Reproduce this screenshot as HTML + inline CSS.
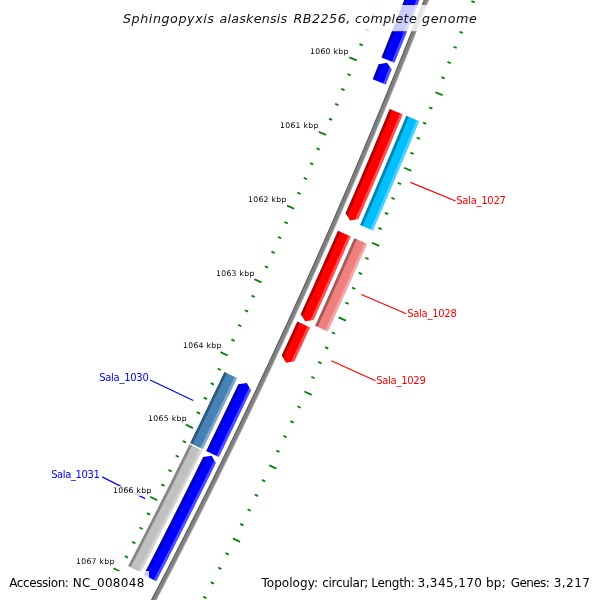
<!DOCTYPE html>
<html><head><meta charset="utf-8"><title>Sphingopyxis alaskensis RB2256, complete genome</title>
<style>html,body{margin:0;padding:0;background:#fff}svg{display:block}text{font-family:"DejaVu Sans","Liberation Sans",sans-serif}</style></head>
<body><svg width="600" height="600" viewBox="0 0 600 600">
<rect width="600" height="600" fill="#fff"/>
<polygon points="449.92,-68.68 447.80,-63.04 445.67,-57.40 443.54,-51.76 441.40,-46.13 439.26,-40.50 437.11,-34.87 434.95,-29.24 432.79,-23.62 430.63,-17.99 428.45,-12.37 426.28,-6.75 424.09,-1.14 421.90,4.48 419.71,10.09 417.51,15.70 415.30,21.31 413.09,26.91 410.87,32.51 408.65,38.12 406.42,43.71 404.19,49.31 401.95,54.90 399.70,60.50 397.45,66.09 395.19,71.67 392.93,77.26 390.66,82.84 388.39,88.42 386.11,94.00 383.82,99.57 381.53,105.15 379.24,110.72 376.93,116.29 374.63,121.85 372.31,127.42 369.99,132.98 367.67,138.54 365.34,144.10 363.00,149.65 360.66,155.20 358.32,160.76 355.96,166.30 353.61,171.85 351.24,177.39 348.87,182.93 346.50,188.47 344.12,194.01 341.73,199.54 339.34,205.07 336.95,210.60 334.54,216.13 332.14,221.65 329.72,227.17 327.30,232.69 324.88,238.21 322.45,243.72 320.01,249.23 317.57,254.74 315.12,260.25 312.67,265.75 310.21,271.25 307.75,276.75 305.28,282.25 302.81,287.74 300.33,293.24 297.84,298.72 295.35,304.21 292.85,309.70 290.35,315.18 287.84,320.66 285.33,326.13 282.81,331.61 280.29,337.08 277.76,342.55 275.22,348.02 272.68,353.48 270.13,358.94 267.58,364.40 265.02,369.86 262.46,375.31 259.89,380.76 257.32,386.21 254.74,391.65 252.16,397.10 249.57,402.54 246.97,407.98 244.37,413.41 241.76,418.85 239.15,424.28 236.53,429.70 233.91,435.13 231.28,440.55 228.65,445.97 226.01,451.39 223.36,456.80 220.71,462.21 218.06,467.62 215.39,473.03 212.73,478.43 210.06,483.83 207.38,489.23 204.69,494.63 202.01,500.02 199.31,505.41 196.61,510.80 193.91,516.18 191.20,521.56 188.48,526.94 185.76,532.32 183.04,537.69 180.30,543.06 177.57,548.43 174.82,553.80 172.08,559.16 169.32,564.52 166.56,569.88 163.80,575.23 161.03,580.58 158.25,585.93 155.47,591.28 152.69,596.62 149.90,601.96 147.10,607.30 144.30,612.64 141.49,617.97 138.68,623.30 135.86,628.62 133.04,633.95 130.21,639.27 127.37,644.59 124.53,649.90 121.69,655.21 118.84,660.52 115.98,665.83 113.12,671.13 110.26,676.43 107.39,681.73 104.51,687.02 101.63,692.32 98.74,697.60 95.85,702.89 100.23,705.29 103.13,700.00 106.02,694.71 108.90,689.41 111.78,684.11 114.65,678.81 117.52,673.51 120.39,668.20 123.24,662.89 126.10,657.57 128.94,652.26 131.79,646.94 134.62,641.62 137.45,636.29 140.28,630.96 143.10,625.63 145.91,620.30 148.72,614.96 151.53,609.62 154.33,604.28 157.12,598.94 159.91,593.59 162.69,588.24 165.47,582.89 168.24,577.53 171.01,572.17 173.77,566.81 176.52,561.44 179.27,556.08 182.02,550.71 184.76,545.33 187.49,539.96 190.22,534.58 192.95,529.20 195.66,523.82 198.38,518.43 201.08,513.04 203.78,507.65 206.48,502.25 209.17,496.86 211.86,491.46 214.54,486.05 217.21,480.65 219.88,475.24 222.54,469.83 225.20,464.41 227.85,459.00 230.50,453.58 233.14,448.16 235.78,442.73 238.41,437.31 241.03,431.88 243.65,426.45 246.27,421.01 248.88,415.57 251.48,410.13 254.08,404.69 256.67,399.25 259.26,393.80 261.84,388.35 264.42,382.89 266.99,377.44 269.55,371.98 272.11,366.52 274.66,361.06 277.21,355.59 279.76,350.12 282.29,344.65 284.82,339.18 287.35,333.70 289.87,328.22 292.39,322.74 294.90,317.26 297.40,311.77 299.90,306.28 302.39,300.79 304.88,295.30 307.36,289.80 309.84,284.30 312.31,278.80 314.78,273.30 317.24,267.79 319.69,262.28 322.14,256.77 324.58,251.26 327.02,245.74 329.45,240.22 331.88,234.70 334.30,229.18 336.72,223.65 339.13,218.12 341.53,212.59 343.93,207.06 346.32,201.52 348.71,195.98 351.09,190.44 353.47,184.90 355.84,179.35 358.21,173.81 360.57,168.26 362.92,162.70 365.27,157.15 367.61,151.59 369.95,146.03 372.28,140.47 374.61,134.91 376.93,129.34 379.24,123.77 381.55,118.20 383.86,112.63 386.16,107.05 388.45,101.47 390.73,95.89 393.02,90.31 395.29,84.72 397.56,79.14 399.83,73.55 402.09,67.96 404.34,62.36 406.59,56.77 408.83,51.17 411.06,45.57 413.29,39.96 415.52,34.36 417.74,28.75 419.95,23.14 422.16,17.53 424.36,11.91 426.56,6.30 428.75,0.68 430.94,-4.94 433.12,-10.57 435.29,-16.19 437.46,-21.82 439.62,-27.45 441.78,-33.08 443.93,-38.72 446.08,-44.35 448.22,-49.99 450.35,-55.63 452.48,-61.27 454.60,-66.92" fill="#808080"/>
<polygon points="449.92,-68.68 447.80,-63.04 445.67,-57.40 443.54,-51.76 441.40,-46.13 439.26,-40.50 437.11,-34.87 434.95,-29.24 432.79,-23.62 430.63,-17.99 428.45,-12.37 426.28,-6.75 424.09,-1.14 421.90,4.48 419.71,10.09 417.51,15.70 415.30,21.31 413.09,26.91 410.87,32.51 408.65,38.12 406.42,43.71 404.19,49.31 401.95,54.90 399.70,60.50 397.45,66.09 395.19,71.67 392.93,77.26 390.66,82.84 388.39,88.42 386.11,94.00 383.82,99.57 381.53,105.15 379.24,110.72 376.93,116.29 374.63,121.85 372.31,127.42 369.99,132.98 367.67,138.54 365.34,144.10 363.00,149.65 360.66,155.20 358.32,160.76 355.96,166.30 353.61,171.85 351.24,177.39 348.87,182.93 346.50,188.47 344.12,194.01 341.73,199.54 339.34,205.07 336.95,210.60 334.54,216.13 332.14,221.65 329.72,227.17 327.30,232.69 324.88,238.21 322.45,243.72 320.01,249.23 317.57,254.74 315.12,260.25 312.67,265.75 310.21,271.25 307.75,276.75 305.28,282.25 302.81,287.74 300.33,293.24 297.84,298.72 295.35,304.21 292.85,309.70 290.35,315.18 287.84,320.66 285.33,326.13 282.81,331.61 280.29,337.08 277.76,342.55 275.22,348.02 272.68,353.48 270.13,358.94 267.58,364.40 265.02,369.86 262.46,375.31 259.89,380.76 257.32,386.21 254.74,391.65 252.16,397.10 249.57,402.54 246.97,407.98 244.37,413.41 241.76,418.85 239.15,424.28 236.53,429.70 233.91,435.13 231.28,440.55 228.65,445.97 226.01,451.39 223.36,456.80 220.71,462.21 218.06,467.62 215.39,473.03 212.73,478.43 210.06,483.83 207.38,489.23 204.69,494.63 202.01,500.02 199.31,505.41 196.61,510.80 193.91,516.18 191.20,521.56 188.48,526.94 185.76,532.32 183.04,537.69 180.30,543.06 177.57,548.43 174.82,553.80 172.08,559.16 169.32,564.52 166.56,569.88 163.80,575.23 161.03,580.58 158.25,585.93 155.47,591.28 152.69,596.62 149.90,601.96 147.10,607.30 144.30,612.64 141.49,617.97 138.68,623.30 135.86,628.62 133.04,633.95 130.21,639.27 127.37,644.59 124.53,649.90 121.69,655.21 118.84,660.52 115.98,665.83 113.12,671.13 110.26,676.43 107.39,681.73 104.51,687.02 101.63,692.32 98.74,697.60 95.85,702.89 96.72,703.37 99.62,698.08 102.50,692.79 105.39,687.50 108.26,682.21 111.14,676.91 114.00,671.61 116.86,666.30 119.72,660.99 122.57,655.68 125.42,650.37 128.26,645.06 131.09,639.74 133.92,634.42 136.74,629.09 139.56,623.76 142.38,618.43 145.18,613.10 147.99,607.77 150.78,602.43 153.57,597.09 156.36,591.74 159.14,586.39 161.92,581.04 164.69,575.69 167.45,570.34 170.21,564.98 172.97,559.62 175.71,554.25 178.46,548.89 181.19,543.52 183.93,538.15 186.65,532.77 189.38,527.39 192.09,522.01 194.80,516.63 197.51,511.25 200.21,505.86 202.90,500.47 205.59,495.07 208.27,489.68 210.95,484.28 213.62,478.88 216.29,473.47 218.95,468.06 221.61,462.65 224.26,457.24 226.91,451.83 229.55,446.41 232.18,440.99 234.81,435.56 237.43,430.14 240.05,424.71 242.66,419.28 245.27,413.84 247.87,408.41 250.47,402.97 253.06,397.53 255.64,392.08 258.22,386.64 260.80,381.19 263.37,375.74 265.93,370.28 268.49,364.82 271.04,359.36 273.59,353.90 276.13,348.44 278.66,342.97 281.19,337.50 283.72,332.03 286.24,326.55 288.75,321.07 291.26,315.59 293.76,310.11 296.26,304.63 298.75,299.14 301.24,293.65 303.72,288.15 306.19,282.66 308.66,277.16 311.13,271.66 313.58,266.16 316.04,260.65 318.48,255.15 320.93,249.64 323.36,244.12 325.79,238.61 328.22,233.09 330.64,227.57 333.05,222.05 335.46,216.52 337.86,211.00 340.26,205.47 342.65,199.94 345.04,194.40 347.42,188.86 349.79,183.33 352.16,177.78 354.53,172.24 356.89,166.69 359.24,161.14 361.58,155.59 363.93,150.04 366.26,144.48 368.59,138.93 370.92,133.37 373.24,127.80 375.55,122.24 377.86,116.67 380.16,111.10 382.46,105.53 384.75,99.95 387.03,94.38 389.31,88.80 391.59,83.22 393.86,77.63 396.12,72.05 398.38,66.46 400.63,60.87 402.87,55.28 405.11,49.68 407.35,44.08 409.58,38.48 411.80,32.88 414.02,27.28 416.23,21.67 418.44,16.06 420.64,10.45 422.83,4.84 425.02,-0.77 427.21,-6.39 429.39,-12.01 431.56,-17.63 433.73,-23.26 435.89,-28.88 438.04,-34.51 440.19,-40.14 442.34,-45.77 444.47,-51.41 446.61,-57.04 448.74,-62.68 450.86,-68.32" fill="#000" fill-opacity="0.3"/>
<polygon points="453.67,-67.27 451.54,-61.63 449.41,-55.98 447.28,-50.34 445.14,-44.71 443.00,-39.07 440.84,-33.44 438.69,-27.81 436.53,-22.18 434.36,-16.55 432.18,-10.93 430.00,-5.31 427.82,0.31 425.63,5.93 423.43,11.55 421.23,17.16 419.02,22.77 416.81,28.38 414.59,33.99 412.37,39.59 410.14,45.20 407.90,50.80 405.66,56.39 403.41,61.99 401.16,67.58 398.90,73.17 396.64,78.76 394.37,84.35 392.09,89.93 389.81,95.51 387.52,101.09 385.23,106.67 382.93,112.25 380.63,117.82 378.32,123.39 376.01,128.96 373.69,134.52 371.36,140.09 369.03,145.65 366.69,151.20 364.35,156.76 362.00,162.31 359.65,167.87 357.29,173.42 354.92,178.96 352.55,184.51 350.18,190.05 347.79,195.59 345.41,201.12 343.01,206.66 340.61,212.19 338.21,217.72 335.80,223.25 333.39,228.77 330.97,234.30 328.54,239.82 326.11,245.34 323.67,250.85 321.23,256.36 318.78,261.87 316.32,267.38 313.86,272.89 311.40,278.39 308.93,283.89 306.45,289.39 303.97,294.88 301.48,300.38 298.99,305.87 296.49,311.36 293.99,316.84 291.48,322.32 288.96,327.80 286.44,333.28 283.92,338.76 281.39,344.23 278.85,349.70 276.31,355.17 273.76,360.63 271.20,366.10 268.65,371.55 266.08,377.01 263.51,382.47 260.94,387.92 258.35,393.37 255.77,398.82 253.18,404.26 250.58,409.70 247.98,415.14 245.37,420.58 242.75,426.01 240.13,431.44 237.51,436.87 234.88,442.30 232.24,447.72 229.60,453.14 226.96,458.56 224.30,463.97 221.65,469.39 218.98,474.80 216.31,480.20 213.64,485.61 210.96,491.01 208.28,496.41 205.59,501.81 202.89,507.20 200.19,512.59 197.48,517.98 194.77,523.37 192.05,528.75 189.33,534.13 186.60,539.51 183.87,544.88 181.13,550.25 178.38,555.62 175.63,560.99 172.88,566.35 170.12,571.71 167.35,577.07 164.58,582.43 161.80,587.78 159.02,593.13 156.23,598.47 153.44,603.82 150.64,609.16 147.84,614.50 145.03,619.83 142.22,625.17 139.40,630.50 136.57,635.82 133.74,641.15 130.90,646.47 128.06,651.79 125.22,657.10 122.36,662.41 119.51,667.72 116.64,673.03 113.78,678.34 110.90,683.64 108.02,688.94 105.14,694.23 102.25,699.52 99.35,704.81 100.23,705.29 103.13,700.00 106.02,694.71 108.90,689.41 111.78,684.11 114.65,678.81 117.52,673.51 120.39,668.20 123.24,662.89 126.10,657.57 128.94,652.26 131.79,646.94 134.62,641.62 137.45,636.29 140.28,630.96 143.10,625.63 145.91,620.30 148.72,614.96 151.53,609.62 154.33,604.28 157.12,598.94 159.91,593.59 162.69,588.24 165.47,582.89 168.24,577.53 171.01,572.17 173.77,566.81 176.52,561.44 179.27,556.08 182.02,550.71 184.76,545.33 187.49,539.96 190.22,534.58 192.95,529.20 195.66,523.82 198.38,518.43 201.08,513.04 203.78,507.65 206.48,502.25 209.17,496.86 211.86,491.46 214.54,486.05 217.21,480.65 219.88,475.24 222.54,469.83 225.20,464.41 227.85,459.00 230.50,453.58 233.14,448.16 235.78,442.73 238.41,437.31 241.03,431.88 243.65,426.45 246.27,421.01 248.88,415.57 251.48,410.13 254.08,404.69 256.67,399.25 259.26,393.80 261.84,388.35 264.42,382.89 266.99,377.44 269.55,371.98 272.11,366.52 274.66,361.06 277.21,355.59 279.76,350.12 282.29,344.65 284.82,339.18 287.35,333.70 289.87,328.22 292.39,322.74 294.90,317.26 297.40,311.77 299.90,306.28 302.39,300.79 304.88,295.30 307.36,289.80 309.84,284.30 312.31,278.80 314.78,273.30 317.24,267.79 319.69,262.28 322.14,256.77 324.58,251.26 327.02,245.74 329.45,240.22 331.88,234.70 334.30,229.18 336.72,223.65 339.13,218.12 341.53,212.59 343.93,207.06 346.32,201.52 348.71,195.98 351.09,190.44 353.47,184.90 355.84,179.35 358.21,173.81 360.57,168.26 362.92,162.70 365.27,157.15 367.61,151.59 369.95,146.03 372.28,140.47 374.61,134.91 376.93,129.34 379.24,123.77 381.55,118.20 383.86,112.63 386.16,107.05 388.45,101.47 390.73,95.89 393.02,90.31 395.29,84.72 397.56,79.14 399.83,73.55 402.09,67.96 404.34,62.36 406.59,56.77 408.83,51.17 411.06,45.57 413.29,39.96 415.52,34.36 417.74,28.75 419.95,23.14 422.16,17.53 424.36,11.91 426.56,6.30 428.75,0.68 430.94,-4.94 433.12,-10.57 435.29,-16.19 437.46,-21.82 439.62,-27.45 441.78,-33.08 443.93,-38.72 446.08,-44.35 448.22,-49.99 450.35,-55.63 452.48,-61.27 454.60,-66.92" fill="#fff" fill-opacity="0.3"/>
<polygon points="433.07,-75.00 430.89,-69.22 428.71,-63.43 426.52,-57.65 424.33,-51.87 422.13,-46.09 419.92,-40.31 417.71,-34.54 415.49,-28.77 413.26,-23.00 411.03,-17.23 408.80,-11.47 406.55,-5.71 404.31,0.05 402.05,5.81 399.79,11.57 397.52,17.32 395.25,23.07 392.97,28.82 390.69,34.56 388.40,40.31 386.10,46.05 383.80,51.79 381.49,57.52 394.48,62.75 396.79,57.00 399.10,51.25 401.40,45.50 403.70,39.74 405.99,33.98 408.27,28.22 410.55,22.46 412.82,16.69 415.08,10.92 417.34,5.15 419.60,-0.62 421.85,-6.40 424.09,-12.18 426.32,-17.96 428.55,-23.74 430.78,-29.52 433.00,-35.31 435.21,-41.10 437.41,-46.89 439.61,-52.69 441.81,-58.48 443.99,-64.28 446.18,-70.08" fill="#0000ff"/>
<polygon points="433.07,-75.00 430.89,-69.22 428.71,-63.43 426.52,-57.65 424.33,-51.87 422.13,-46.09 419.92,-40.31 417.71,-34.54 415.49,-28.77 413.26,-23.00 411.03,-17.23 408.80,-11.47 406.55,-5.71 404.31,0.05 402.05,5.81 399.79,11.57 397.52,17.32 395.25,23.07 392.97,28.82 390.69,34.56 388.40,40.31 386.10,46.05 383.80,51.79 381.49,57.52 384.09,58.57 386.40,52.83 388.70,47.09 391.00,41.34 393.29,35.60 395.58,29.85 397.86,24.10 400.13,18.35 402.40,12.59 404.66,6.83 406.91,1.07 409.16,-4.69 411.41,-10.45 413.64,-16.22 415.88,-21.99 418.10,-27.76 420.32,-33.54 422.53,-39.31 424.74,-45.09 426.94,-50.87 429.14,-56.66 431.33,-62.44 433.51,-68.23 435.69,-74.02" fill="#000" fill-opacity="0.3"/>
<polygon points="443.55,-71.07 441.37,-65.27 439.19,-59.47 436.99,-53.68 434.80,-47.89 432.59,-42.10 430.38,-36.31 428.16,-30.53 425.94,-24.75 423.71,-18.97 421.48,-13.19 419.24,-7.41 416.99,-1.64 414.74,4.13 412.48,9.90 410.21,15.67 407.94,21.43 405.67,27.19 403.38,32.95 401.10,38.71 398.80,44.46 396.50,50.21 394.19,55.96 391.88,61.71 394.48,62.75 396.79,57.00 399.10,51.25 401.40,45.50 403.70,39.74 405.99,33.98 408.27,28.22 410.55,22.46 412.82,16.69 415.08,10.92 417.34,5.15 419.60,-0.62 421.85,-6.40 424.09,-12.18 426.32,-17.96 428.55,-23.74 430.78,-29.52 433.00,-35.31 435.21,-41.10 437.41,-46.89 439.61,-52.69 441.81,-58.48 443.99,-64.28 446.18,-70.08" fill="#fff" fill-opacity="0.3"/>
<polygon points="372.70,79.23 375.72,71.79 378.73,64.36 386.98,62.64 391.71,69.61 388.69,77.06 385.66,84.51" fill="#0000ff"/>
<polygon points="372.70,79.23 375.72,71.79 378.73,64.36 382.03,63.67 381.33,65.41 378.31,72.85 375.29,80.28" fill="#000" fill-opacity="0.3"/>
<polygon points="383.07,83.45 386.10,76.01 389.12,68.56 389.82,66.82 391.71,69.61 388.69,77.06 385.66,84.51" fill="#fff" fill-opacity="0.3"/>
<polygon points="389.69,108.96 387.29,114.78 384.89,120.60 382.48,126.42 380.06,132.23 377.63,138.04 375.20,143.85 372.77,149.65 370.33,155.46 367.88,161.26 365.42,167.05 362.96,172.85 360.50,178.64 358.02,184.43 355.54,190.22 353.06,196.00 350.57,201.78 348.07,207.56 345.57,213.34 350.11,220.45 358.41,218.91 360.92,213.12 363.42,207.33 365.92,201.53 368.41,195.74 370.89,189.94 373.37,184.13 375.85,178.33 378.31,172.52 380.77,166.71 383.23,160.89 385.67,155.08 388.12,149.26 390.55,143.44 392.98,137.61 395.41,131.79 397.82,125.96 400.23,120.13 402.64,114.29" fill="#ff0000"/>
<polygon points="389.69,108.96 387.29,114.78 384.89,120.60 382.48,126.42 380.06,132.23 377.63,138.04 375.20,143.85 372.77,149.65 370.33,155.46 367.88,161.26 365.42,167.05 362.96,172.85 360.50,178.64 358.02,184.43 355.54,190.22 353.06,196.00 350.57,201.78 348.07,207.56 345.57,213.34 347.39,216.18 348.14,214.45 350.64,208.68 353.14,202.89 355.63,197.11 358.12,191.32 360.60,185.53 363.07,179.74 365.54,173.94 368.00,168.15 370.46,162.35 372.91,156.54 375.35,150.74 377.79,144.93 380.22,139.12 382.64,133.31 385.06,127.49 387.48,121.67 389.88,115.85 392.28,110.03" fill="#000" fill-opacity="0.3"/>
<polygon points="400.05,113.23 397.65,119.06 395.24,124.89 392.82,130.71 390.40,136.54 387.97,142.36 385.53,148.18 383.09,153.99 380.65,159.81 378.19,165.62 375.73,171.43 373.27,177.23 370.80,183.03 368.32,188.83 365.84,194.63 363.35,200.43 360.85,206.22 358.35,212.01 355.84,217.80 355.09,219.53 358.41,218.91 360.92,213.12 363.42,207.33 365.92,201.53 368.41,195.74 370.89,189.94 373.37,184.13 375.85,178.33 378.31,172.52 380.77,166.71 383.23,160.89 385.67,155.08 388.12,149.26 390.55,143.44 392.98,137.61 395.41,131.79 397.82,125.96 400.23,120.13 402.64,114.29" fill="#fff" fill-opacity="0.3"/>
<polygon points="406.25,115.78 403.87,121.54 401.49,127.30 399.10,133.06 396.70,138.82 394.30,144.58 391.90,150.33 389.48,156.08 387.06,161.83 384.64,167.57 382.21,173.32 379.77,179.06 377.33,184.79 374.88,190.53 372.43,196.26 369.97,201.99 367.50,207.72 365.03,213.44 362.55,219.17 360.07,224.89 372.91,230.47 375.40,224.74 377.88,219.00 380.36,213.26 382.83,207.52 385.30,201.78 387.76,196.03 390.21,190.28 392.66,184.53 395.10,178.78 397.54,173.02 399.97,167.26 402.39,161.50 404.81,155.74 407.22,149.97 409.63,144.21 412.03,138.43 414.42,132.66 416.81,126.88 419.19,121.11" fill="#00bfff"/>
<polygon points="406.25,115.78 403.87,121.54 401.49,127.30 399.10,133.06 396.70,138.82 394.30,144.58 391.90,150.33 389.48,156.08 387.06,161.83 384.64,167.57 382.21,173.32 379.77,179.06 377.33,184.79 374.88,190.53 372.43,196.26 369.97,201.99 367.50,207.72 365.03,213.44 362.55,219.17 360.07,224.89 362.64,226.00 365.12,220.28 367.60,214.56 370.07,208.83 372.54,203.10 375.00,197.36 377.46,191.63 379.91,185.89 382.35,180.15 384.79,174.41 387.22,168.66 389.65,162.92 392.06,157.17 394.48,151.41 396.89,145.66 399.29,139.90 401.68,134.14 404.07,128.38 406.46,122.61 408.84,116.84" fill="#000" fill-opacity="0.3"/>
<polygon points="416.60,120.04 414.22,125.82 411.83,131.59 409.44,137.36 407.04,143.13 404.64,148.89 402.23,154.66 399.81,160.42 397.39,166.18 394.96,171.93 392.52,177.69 390.08,183.44 387.63,189.19 385.18,194.93 382.72,200.68 380.26,206.42 377.79,212.15 375.31,217.89 372.83,223.62 370.34,229.35 372.91,230.47 375.40,224.74 377.88,219.00 380.36,213.26 382.83,207.52 385.30,201.78 387.76,196.03 390.21,190.28 392.66,184.53 395.10,178.78 397.54,173.02 399.97,167.26 402.39,161.50 404.81,155.74 407.22,149.97 409.63,144.21 412.03,138.43 414.42,132.66 416.81,126.88 419.19,121.11" fill="#fff" fill-opacity="0.3"/>
<polygon points="337.97,230.78 335.52,236.35 333.08,241.92 330.62,247.49 328.16,253.06 325.69,258.62 323.22,264.19 320.74,269.75 318.26,275.30 315.77,280.86 313.28,286.41 310.78,291.96 308.27,297.51 305.76,303.05 303.24,308.59 300.72,314.13 305.13,321.32 313.46,319.94 315.99,314.39 318.51,308.83 321.03,303.28 323.54,297.72 326.05,292.15 328.55,286.59 331.04,281.02 333.53,275.45 336.01,269.88 338.49,264.30 340.96,258.73 343.43,253.15 345.89,247.56 348.34,241.98 350.79,236.39" fill="#ff0000"/>
<polygon points="337.97,230.78 335.52,236.35 333.08,241.92 330.62,247.49 328.16,253.06 325.69,258.62 323.22,264.19 320.74,269.75 318.26,275.30 315.77,280.86 313.28,286.41 310.78,291.96 308.27,297.51 305.76,303.05 303.24,308.59 300.72,314.13 302.49,317.01 303.27,315.29 305.79,309.75 308.31,304.21 310.82,298.66 313.33,293.11 315.83,287.56 318.33,282.00 320.82,276.45 323.30,270.89 325.78,265.32 328.25,259.76 330.72,254.19 333.18,248.62 335.64,243.05 338.09,237.48 340.53,231.90" fill="#000" fill-opacity="0.3"/>
<polygon points="348.23,235.27 345.78,240.85 343.33,246.43 340.87,252.01 338.40,257.59 335.93,263.17 333.45,268.74 330.97,274.31 328.48,279.88 325.99,285.44 323.49,291.00 320.99,296.56 318.48,302.12 315.96,307.68 313.44,313.23 310.91,318.78 310.13,320.49 313.46,319.94 315.99,314.39 318.51,308.83 321.03,303.28 323.54,297.72 326.05,292.15 328.55,286.59 331.04,281.02 333.53,275.45 336.01,269.88 338.49,264.30 340.96,258.73 343.43,253.15 345.89,247.56 348.34,241.98 350.79,236.39" fill="#fff" fill-opacity="0.3"/>
<polygon points="354.29,238.14 351.72,244.00 349.14,249.86 346.56,255.71 343.97,261.56 341.38,267.41 338.78,273.26 336.17,279.11 333.56,284.95 330.94,290.79 328.31,296.62 325.68,302.46 323.04,308.29 320.40,314.11 317.75,319.94 315.09,325.76 327.82,331.58 330.49,325.74 333.14,319.90 335.79,314.06 338.44,308.22 341.07,302.37 343.71,296.52 346.33,290.67 348.95,284.82 351.56,278.96 354.17,273.10 356.77,267.23 359.37,261.37 361.95,255.50 364.53,249.63 367.11,243.75" fill="#f08080"/>
<polygon points="354.29,238.14 351.72,244.00 349.14,249.86 346.56,255.71 343.97,261.56 341.38,267.41 338.78,273.26 336.17,279.11 333.56,284.95 330.94,290.79 328.31,296.62 325.68,302.46 323.04,308.29 320.40,314.11 317.75,319.94 315.09,325.76 317.64,326.92 320.29,321.10 322.95,315.27 325.59,309.44 328.23,303.61 330.86,297.77 333.49,291.93 336.11,286.09 338.72,280.25 341.33,274.40 343.93,268.55 346.53,262.70 349.12,256.84 351.70,250.99 354.28,245.12 356.85,239.26" fill="#000" fill-opacity="0.3"/>
<polygon points="364.55,242.63 361.97,248.50 359.39,254.37 356.80,260.24 354.21,266.10 351.61,271.96 349.01,277.82 346.39,283.67 343.78,289.53 341.15,295.38 338.52,301.22 335.89,307.07 333.24,312.91 330.59,318.75 327.94,324.58 325.28,330.41 327.82,331.58 330.49,325.74 333.14,319.90 335.79,314.06 338.44,308.22 341.07,302.37 343.71,296.52 346.33,290.67 348.95,284.82 351.56,278.96 354.17,273.10 356.77,267.23 359.37,261.37 361.95,255.50 364.53,249.63 367.11,243.75" fill="#fff" fill-opacity="0.3"/>
<polygon points="297.31,321.60 294.72,327.24 292.13,332.88 289.54,338.52 286.93,344.15 284.32,349.78 281.71,355.41 286.07,362.63 294.40,361.32 297.02,355.68 299.64,350.03 302.25,344.38 304.85,338.73 307.45,333.08 310.04,327.42" fill="#ff0000"/>
<polygon points="297.31,321.60 294.72,327.24 292.13,332.88 289.54,338.52 286.93,344.15 284.32,349.78 281.71,355.41 283.45,358.30 284.25,356.59 286.86,350.96 289.47,345.33 292.08,339.69 294.68,334.05 297.27,328.41 299.86,322.76" fill="#000" fill-opacity="0.3"/>
<polygon points="307.49,326.26 304.90,331.91 302.31,337.56 299.70,343.21 297.10,348.85 294.48,354.50 291.86,360.14 291.07,361.85 294.40,361.32 297.02,355.68 299.64,350.03 302.25,344.38 304.85,338.73 307.45,333.08 310.04,327.42" fill="#fff" fill-opacity="0.3"/>
<polygon points="224.37,371.91 221.77,377.40 219.17,382.88 216.56,388.36 213.94,393.83 211.32,399.31 208.69,404.78 206.06,410.24 203.42,415.71 200.78,421.17 198.13,426.63 195.48,432.09 192.82,437.54 190.15,443.00 202.72,449.15 205.40,443.69 208.06,438.22 210.72,432.75 213.38,427.28 216.03,421.80 218.67,416.32 221.31,410.84 223.94,405.36 226.57,399.87 229.19,394.38 231.81,388.89 234.42,383.40 237.02,377.90" fill="#4682b4"/>
<polygon points="224.37,371.91 221.77,377.40 219.17,382.88 216.56,388.36 213.94,393.83 211.32,399.31 208.69,404.78 206.06,410.24 203.42,415.71 200.78,421.17 198.13,426.63 195.48,432.09 192.82,437.54 190.15,443.00 192.66,444.23 195.33,438.77 197.99,433.32 200.65,427.86 203.30,422.39 205.94,416.93 208.58,411.46 211.22,405.99 213.84,400.52 216.47,395.04 219.08,389.56 221.69,384.08 224.30,378.60 226.90,373.11" fill="#000" fill-opacity="0.3"/>
<polygon points="234.49,376.70 231.89,382.20 229.28,387.69 226.66,393.18 224.04,398.66 221.42,404.15 218.79,409.63 216.15,415.11 213.51,420.58 210.86,426.06 208.20,431.53 205.54,436.99 202.88,442.46 200.21,447.92 202.72,449.15 205.40,443.69 208.06,438.22 210.72,432.75 213.38,427.28 216.03,421.80 218.67,416.32 221.31,410.84 223.94,405.36 226.57,399.87 229.19,394.38 231.81,388.89 234.42,383.40 237.02,377.90" fill="#fff" fill-opacity="0.3"/>
<polygon points="206.18,450.96 208.90,445.41 211.61,439.85 214.31,434.30 217.00,428.74 219.70,423.17 222.38,417.61 225.06,412.04 227.73,406.47 230.40,400.90 233.06,395.32 235.72,389.74 238.37,384.16 246.70,382.92 251.02,390.16 248.36,395.76 245.70,401.35 243.03,406.94 240.36,412.52 237.68,418.11 234.99,423.69 232.30,429.27 229.60,434.84 226.90,440.41 224.19,445.98 221.48,451.55 218.76,457.11" fill="#0000ff"/>
<polygon points="206.18,450.96 208.90,445.41 211.61,439.85 214.31,434.30 217.00,428.74 219.70,423.17 222.38,417.61 225.06,412.04 227.73,406.47 230.40,400.90 233.06,395.32 235.72,389.74 238.37,384.16 241.70,383.67 240.90,385.36 238.25,390.95 235.59,396.53 232.93,402.11 230.26,407.68 227.58,413.25 224.90,418.83 222.22,424.39 219.52,429.96 216.83,435.52 214.12,441.08 211.41,446.63 208.70,452.19" fill="#000" fill-opacity="0.3"/>
<polygon points="216.24,455.88 218.96,450.32 221.67,444.76 224.38,439.19 227.08,433.62 229.78,428.05 232.47,422.47 235.16,416.89 237.83,411.31 240.51,405.73 243.17,400.14 245.84,394.55 248.49,388.96 249.30,387.27 251.02,390.16 248.36,395.76 245.70,401.35 243.03,406.94 240.36,412.52 237.68,418.11 234.99,423.69 232.30,429.27 229.60,434.84 226.90,440.41 224.19,445.98 221.48,451.55 218.76,457.11" fill="#fff" fill-opacity="0.3"/>
<polygon points="189.49,444.33 186.77,449.90 184.03,455.46 181.29,461.01 178.54,466.57 175.79,472.12 173.03,477.67 170.27,483.22 167.50,488.76 164.73,494.30 161.94,499.84 159.16,505.37 156.37,510.90 153.57,516.43 150.76,521.96 147.95,527.48 145.14,533.00 142.32,538.52 139.49,544.03 136.66,549.54 133.82,555.05 130.97,560.55 128.12,566.06 140.55,572.50 143.41,566.99 146.26,561.47 149.11,555.95 151.94,550.42 154.78,544.90 157.61,539.37 160.43,533.83 163.24,528.30 166.06,522.76 168.86,517.22 171.66,511.67 174.45,506.13 177.24,500.58 180.02,495.02 182.80,489.47 185.57,483.91 188.33,478.35 191.09,472.78 193.84,467.21 196.59,461.64 199.33,456.07 202.07,450.49" fill="#c0c0c0"/>
<polygon points="189.49,444.33 186.77,449.90 184.03,455.46 181.29,461.01 178.54,466.57 175.79,472.12 173.03,477.67 170.27,483.22 167.50,488.76 164.73,494.30 161.94,499.84 159.16,505.37 156.37,510.90 153.57,516.43 150.76,521.96 147.95,527.48 145.14,533.00 142.32,538.52 139.49,544.03 136.66,549.54 133.82,555.05 130.97,560.55 128.12,566.06 130.61,567.34 133.46,561.84 136.31,556.33 139.15,550.82 141.98,545.31 144.81,539.79 147.63,534.27 150.45,528.75 153.26,523.22 156.07,517.70 158.86,512.17 161.66,506.63 164.45,501.09 167.23,495.55 170.01,490.01 172.78,484.47 175.54,478.92 178.30,473.37 181.05,467.81 183.80,462.25 186.54,456.69 189.28,451.13 192.01,445.57" fill="#000" fill-opacity="0.3"/>
<polygon points="199.55,449.26 196.82,454.83 194.08,460.41 191.33,465.97 188.58,471.54 185.82,477.10 183.06,482.66 180.29,488.22 177.52,493.77 174.74,499.32 171.95,504.87 169.16,510.41 166.36,515.95 163.56,521.49 160.75,527.03 157.93,532.56 155.11,538.09 152.29,543.62 149.45,549.14 146.62,554.67 143.77,560.18 140.92,565.70 138.07,571.21 140.55,572.50 143.41,566.99 146.26,561.47 149.11,555.95 151.94,550.42 154.78,544.90 157.61,539.37 160.43,533.83 163.24,528.30 166.06,522.76 168.86,517.22 171.66,511.67 174.45,506.13 177.24,500.58 180.02,495.02 182.80,489.47 185.57,483.91 188.33,478.35 191.09,472.78 193.84,467.21 196.59,461.64 199.33,456.07 202.07,450.49" fill="#fff" fill-opacity="0.3"/>
<polygon points="143.74,574.83 146.50,569.50 149.26,564.17 152.01,558.83 154.75,553.49 157.49,548.15 160.23,542.81 162.96,537.46 165.68,532.12 168.40,526.76 171.11,521.41 173.82,516.05 176.52,510.69 179.22,505.33 181.91,499.97 184.59,494.60 187.27,489.23 189.95,483.86 192.62,478.48 195.28,473.10 197.94,467.72 200.60,462.34 203.24,456.95 211.59,455.83 215.81,463.12 213.16,468.52 210.50,473.92 207.83,479.31 205.16,484.70 202.48,490.09 199.80,495.48 197.12,500.86 194.42,506.24 191.73,511.62 189.02,516.99 186.32,522.36 183.60,527.73 180.88,533.10 178.16,538.46 175.43,543.82 172.69,549.18 169.95,554.54 167.21,559.89 164.45,565.24 161.70,570.59 158.93,575.93 156.17,581.27" fill="#0000ff"/>
<polygon points="143.74,574.83 146.50,569.50 149.26,564.17 152.01,558.83 154.75,553.49 157.49,548.15 160.23,542.81 162.96,537.46 165.68,532.12 168.40,526.76 171.11,521.41 173.82,516.05 176.52,510.69 179.22,505.33 181.91,499.97 184.59,494.60 187.27,489.23 189.95,483.86 192.62,478.48 195.28,473.10 197.94,467.72 200.60,462.34 203.24,456.95 206.58,456.50 205.76,458.19 203.11,463.57 200.45,468.96 197.79,474.34 195.13,479.72 192.46,485.10 189.78,490.48 187.10,495.85 184.41,501.22 181.72,506.59 179.02,511.95 176.32,517.32 173.61,522.67 170.89,528.03 168.17,533.39 165.45,538.74 162.72,544.08 159.98,549.43 157.24,554.77 154.50,560.11 151.74,565.45 148.99,570.78 146.22,576.12" fill="#000" fill-opacity="0.3"/>
<polygon points="153.68,579.98 156.45,574.65 159.21,569.30 161.96,563.96 164.71,558.61 167.46,553.26 170.20,547.91 172.93,542.55 175.66,537.19 178.39,531.83 181.10,526.47 183.82,521.10 186.52,515.73 189.22,510.36 191.92,504.98 194.61,499.61 197.30,494.23 199.98,488.84 202.65,483.46 205.32,478.07 207.99,472.68 210.64,467.28 213.30,461.89 214.12,460.20 215.81,463.12 213.16,468.52 210.50,473.92 207.83,479.31 205.16,484.70 202.48,490.09 199.80,495.48 197.12,500.86 194.42,506.24 191.73,511.62 189.02,516.99 186.32,522.36 183.60,527.73 180.88,533.10 178.16,538.46 175.43,543.82 172.69,549.18 169.95,554.54 167.21,559.89 164.45,565.24 161.70,570.59 158.93,575.93 156.17,581.27" fill="#fff" fill-opacity="0.3"/>
<g stroke="#008000" stroke-width="1.8"><line x1="494.61" y1="-59.96" x2="502.00" y2="-57.20"/>
<line x1="488.86" y1="-44.67" x2="492.14" y2="-43.44"/>
<line x1="483.08" y1="-29.40" x2="486.35" y2="-28.15"/>
<line x1="477.25" y1="-14.14" x2="480.52" y2="-12.88"/>
<line x1="471.38" y1="1.11" x2="474.65" y2="2.37"/>
<line x1="465.47" y1="16.34" x2="472.83" y2="19.20"/>
<line x1="459.52" y1="31.55" x2="462.78" y2="32.83"/>
<line x1="453.53" y1="46.75" x2="456.78" y2="48.03"/>
<line x1="374.68" y1="15.53" x2="371.43" y2="14.24"/>
<line x1="447.50" y1="61.93" x2="450.75" y2="63.22"/>
<line x1="368.73" y1="30.50" x2="365.48" y2="29.20"/>
<line x1="441.42" y1="77.09" x2="444.67" y2="78.39"/>
<line x1="362.75" y1="45.45" x2="359.50" y2="44.14"/>
<line x1="435.31" y1="92.24" x2="442.63" y2="95.20"/>
<line x1="356.72" y1="60.38" x2="349.39" y2="57.42"/>
<line x1="429.15" y1="107.37" x2="432.39" y2="108.69"/>
<line x1="350.65" y1="75.30" x2="347.41" y2="73.98"/>
<line x1="422.95" y1="122.48" x2="426.19" y2="123.81"/>
<line x1="344.54" y1="90.20" x2="341.30" y2="88.87"/>
<line x1="416.71" y1="137.58" x2="419.95" y2="138.92"/>
<line x1="338.39" y1="105.09" x2="335.15" y2="103.74"/>
<line x1="410.44" y1="152.66" x2="413.66" y2="154.01"/>
<line x1="332.19" y1="119.95" x2="328.97" y2="118.60"/>
<line x1="404.12" y1="167.72" x2="411.40" y2="170.79"/>
<line x1="325.96" y1="134.80" x2="318.68" y2="131.74"/>
<line x1="397.75" y1="182.76" x2="400.98" y2="184.13"/>
<line x1="319.69" y1="149.64" x2="316.47" y2="148.27"/>
<line x1="391.35" y1="197.79" x2="394.57" y2="199.17"/>
<line x1="313.38" y1="164.46" x2="310.16" y2="163.08"/>
<line x1="384.91" y1="212.80" x2="388.13" y2="214.19"/>
<line x1="307.03" y1="179.25" x2="303.82" y2="177.87"/>
<line x1="378.43" y1="227.80" x2="381.64" y2="229.19"/>
<line x1="300.64" y1="194.04" x2="297.43" y2="192.64"/>
<line x1="371.90" y1="242.77" x2="379.14" y2="245.94"/>
<line x1="294.21" y1="208.80" x2="286.97" y2="205.64"/>
<line x1="365.34" y1="257.73" x2="368.54" y2="259.14"/>
<line x1="287.73" y1="223.55" x2="284.53" y2="222.14"/>
<line x1="358.74" y1="272.67" x2="361.94" y2="274.09"/>
<line x1="281.22" y1="238.28" x2="278.02" y2="236.86"/>
<line x1="352.09" y1="287.59" x2="355.29" y2="289.02"/>
<line x1="274.67" y1="252.99" x2="271.48" y2="251.56"/>
<line x1="345.41" y1="302.50" x2="348.60" y2="303.93"/>
<line x1="268.08" y1="267.69" x2="264.89" y2="266.25"/>
<line x1="338.68" y1="317.38" x2="345.87" y2="320.65"/>
<line x1="261.45" y1="282.36" x2="254.25" y2="279.10"/>
<line x1="331.91" y1="332.25" x2="335.10" y2="333.71"/>
<line x1="254.78" y1="297.02" x2="251.59" y2="295.57"/>
<line x1="325.11" y1="347.10" x2="328.29" y2="348.56"/>
<line x1="248.07" y1="311.66" x2="244.89" y2="310.20"/>
<line x1="318.26" y1="361.93" x2="321.44" y2="363.40"/>
<line x1="241.32" y1="326.28" x2="238.14" y2="324.81"/>
<line x1="311.37" y1="376.74" x2="314.55" y2="378.22"/>
<line x1="234.53" y1="340.89" x2="231.36" y2="339.41"/>
<line x1="304.45" y1="391.54" x2="311.60" y2="394.90"/>
<line x1="227.70" y1="355.47" x2="220.55" y2="352.11"/>
<line x1="297.48" y1="406.31" x2="300.64" y2="407.81"/>
<line x1="220.83" y1="370.04" x2="217.67" y2="368.54"/>
<line x1="290.47" y1="421.07" x2="293.63" y2="422.57"/>
<line x1="213.92" y1="384.59" x2="210.76" y2="383.08"/>
<line x1="283.43" y1="435.80" x2="286.58" y2="437.32"/>
<line x1="206.97" y1="399.12" x2="203.82" y2="397.60"/>
<line x1="276.34" y1="450.52" x2="279.49" y2="452.04"/>
<line x1="199.99" y1="413.63" x2="196.83" y2="412.11"/>
<line x1="269.21" y1="465.22" x2="276.32" y2="468.68"/>
<line x1="192.96" y1="428.12" x2="185.86" y2="424.66"/>
<line x1="262.05" y1="479.90" x2="265.19" y2="481.44"/>
<line x1="185.89" y1="442.59" x2="182.75" y2="441.05"/>
<line x1="254.84" y1="494.56" x2="257.98" y2="496.11"/>
<line x1="178.79" y1="457.05" x2="175.65" y2="455.50"/>
<line x1="247.59" y1="509.20" x2="250.73" y2="510.76"/>
<line x1="171.64" y1="471.48" x2="168.51" y2="469.92"/>
<line x1="240.31" y1="523.82" x2="243.44" y2="525.38"/>
<line x1="164.46" y1="485.89" x2="161.33" y2="484.33"/>
<line x1="232.98" y1="538.42" x2="240.04" y2="541.97"/>
<line x1="157.24" y1="500.29" x2="150.18" y2="496.74"/>
<line x1="225.62" y1="553.00" x2="228.74" y2="554.58"/>
<line x1="149.98" y1="514.66" x2="146.86" y2="513.08"/>
<line x1="218.21" y1="567.56" x2="221.33" y2="569.15"/>
<line x1="142.68" y1="529.02" x2="139.56" y2="527.43"/>
<line x1="210.77" y1="582.10" x2="213.88" y2="583.70"/>
<line x1="135.34" y1="543.36" x2="132.23" y2="541.76"/>
<line x1="203.29" y1="596.62" x2="206.40" y2="598.23"/>
<line x1="127.96" y1="557.67" x2="124.85" y2="556.06"/>
<line x1="195.77" y1="611.12" x2="202.77" y2="614.77"/>
<line x1="120.55" y1="571.97" x2="113.54" y2="568.32"/>
<line x1="188.20" y1="625.60" x2="191.30" y2="627.22"/>
<line x1="113.09" y1="586.24" x2="109.99" y2="584.62"/>
<line x1="180.60" y1="640.06" x2="183.70" y2="641.69"/>
<line x1="172.96" y1="654.50" x2="176.05" y2="656.14"/>
<line x1="165.28" y1="668.91" x2="168.37" y2="670.56"/>
<line x1="157.57" y1="683.31" x2="164.52" y2="687.05"/>
<line x1="149.81" y1="697.69" x2="152.89" y2="699.35"/>
<line x1="142.01" y1="712.04" x2="145.09" y2="713.71"/>
<line x1="134.18" y1="726.37" x2="137.25" y2="728.06"/>
<line x1="126.30" y1="740.69" x2="129.37" y2="742.38"/>
<line x1="118.39" y1="754.98" x2="125.30" y2="758.81"/></g>
<line x1="410.40" y1="182.40" x2="455.60" y2="201.00" stroke="#ff0000" stroke-width="1.2"/>
<line x1="361.25" y1="294.50" x2="406.25" y2="313.75" stroke="#ff0000" stroke-width="1.2"/>
<line x1="331.25" y1="360.75" x2="375.50" y2="380.75" stroke="#ff0000" stroke-width="1.2"/>
<line x1="150.10" y1="380.00" x2="193.30" y2="400.50" stroke="#0000ff" stroke-width="1.2"/>
<line x1="102.10" y1="476.90" x2="145.10" y2="498.60" stroke="#0000ff" stroke-width="1.2"/>
<text x="456.15" y="203.80" font-size="10" fill="#ff0000" style="letter-spacing:-0.256px">Sala_1027</text>
<text x="407.15" y="316.80" font-size="10" fill="#ff0000" style="letter-spacing:-0.275px">Sala_1028</text>
<text x="376.15" y="383.80" font-size="10" fill="#ff0000" style="letter-spacing:-0.275px">Sala_1029</text>
<text x="99.15" y="380.80" font-size="10" fill="#0000ff" style="letter-spacing:-0.275px">Sala_1030</text>
<text x="51.15" y="477.80" font-size="10" fill="#0000ff" style="letter-spacing:-0.381px">Sala_1031</text>
<rect x="309.80" y="47.00" width="39.20" height="10" fill="#fff" fill-opacity="0.8"/>
<text x="310.00" y="53.80" font-size="7.7" fill="#000" style="letter-spacing:0.300px">1060 kbp</text>
<rect x="279.80" y="121.00" width="39.20" height="10" fill="#fff" fill-opacity="0.8"/>
<text x="280.00" y="127.80" font-size="7.7" fill="#000" style="letter-spacing:0.300px">1061 kbp</text>
<rect x="247.80" y="195.00" width="39.20" height="10" fill="#fff" fill-opacity="0.8"/>
<text x="248.00" y="201.80" font-size="7.7" fill="#000" style="letter-spacing:0.300px">1062 kbp</text>
<rect x="215.80" y="269.00" width="39.20" height="10" fill="#fff" fill-opacity="0.8"/>
<text x="216.00" y="275.80" font-size="7.7" fill="#000" style="letter-spacing:0.300px">1063 kbp</text>
<rect x="182.80" y="341.00" width="39.20" height="10" fill="#fff" fill-opacity="0.8"/>
<text x="183.00" y="347.80" font-size="7.7" fill="#000" style="letter-spacing:0.300px">1064 kbp</text>
<rect x="147.80" y="414.00" width="39.40" height="10" fill="#fff" fill-opacity="0.8"/>
<text x="148.00" y="420.80" font-size="7.7" fill="#000" style="letter-spacing:0.329px">1065 kbp</text>
<rect x="112.80" y="486.00" width="39.20" height="10" fill="#fff" fill-opacity="0.8"/>
<text x="113.00" y="492.80" font-size="7.7" fill="#000" style="letter-spacing:0.300px">1066 kbp</text>
<rect x="75.80" y="557.00" width="39.20" height="10" fill="#fff" fill-opacity="0.8"/>
<text x="76.00" y="563.80" font-size="7.7" fill="#000" style="letter-spacing:0.300px">1067 kbp</text>
<rect x="120" y="5" width="360" height="26.2" fill="#fff" fill-opacity="0.8"/>
<text x="122.95" y="22.80" font-size="12.7" fill="#111" font-style="italic" style="letter-spacing:0.568px">Sphingopyxis</text>
<text x="219.50" y="22.80" font-size="12.7" fill="#111" font-style="italic" style="letter-spacing:0.233px">alaskensis</text>
<text x="293.45" y="22.80" font-size="12.7" fill="#111" font-style="italic" style="letter-spacing:0.500px">RB2256,</text>
<text x="354.95" y="22.80" font-size="12.7" fill="#111" font-style="italic" style="letter-spacing:0.364px">complete</text>
<text x="422.10" y="22.80" font-size="12.7" fill="#111" font-style="italic" style="letter-spacing:0.570px">genome</text>
<rect x="6" y="571" width="143" height="21" fill="#fff" fill-opacity="0.8"/>
<rect x="258" y="571" width="334" height="21" fill="#fff" fill-opacity="0.8"/>
<text x="9.25" y="586.80" font-size="12" fill="#000" style="letter-spacing:-0.417px">Accession:</text>
<text x="72.75" y="586.80" font-size="12" fill="#000" style="letter-spacing:0.294px">NC_008048</text>
<text x="261.45" y="586.80" font-size="12" fill="#000" style="letter-spacing:0.050px">Topology:</text>
<text x="322.25" y="586.80" font-size="12" fill="#000" style="letter-spacing:-0.294px">circular;</text>
<text x="371.25" y="586.80" font-size="12" fill="#000" style="letter-spacing:-0.300px">Length:</text>
<text x="417.60" y="586.80" font-size="12" fill="#000" style="letter-spacing:0.412px">3,345,170</text>
<text x="485.95" y="586.80" font-size="12" fill="#000" style="letter-spacing:0.275px">bp;</text>
<text x="510.65" y="586.80" font-size="12" fill="#000" style="letter-spacing:-0.560px">Genes:</text>
<text x="553.80" y="586.80" font-size="12" fill="#000" style="letter-spacing:0.437px">3,217</text>
</svg></body></html>
